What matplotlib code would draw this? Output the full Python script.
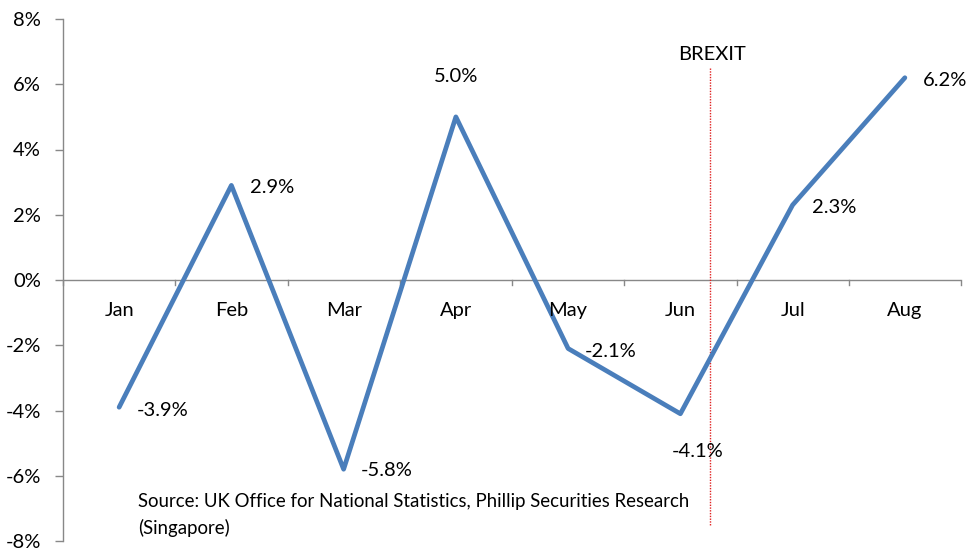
import matplotlib
matplotlib.use("Agg")
import matplotlib.pyplot as plt
from matplotlib.ticker import FuncFormatter

months = ["Jan", "Feb", "Mar", "Apr", "May", "Jun", "Jul", "Aug"]
values = [-3.9, 2.9, -5.8, 5.0, -2.1, -4.1, 2.3, 6.2]
yticks = [-8, -6, -4, -2, 0, 2, 4, 6, 8]
brexit_pos = 5.26

plt.rcParams['font.family'] = ['Lato', 'DejaVu Sans']
W, H = 966, 550
FS = 14.5
fig = plt.figure(figsize=(W / 100, H / 100), dpi=100)
ax = fig.add_axes([63 / W, 1 - 541 / H, (961 - 63) / W, (541 - 19) / H])

x = list(range(len(months)))
ax.plot(x, values, color="#4A7EBB", lw=3.4, solid_capstyle="round", zorder=3)

ax.set_xlim(-0.5, len(months) - 0.5)
ax.set_ylim(-8, 8)
ax.set_yticks(yticks)
ax.yaxis.set_major_formatter(FuncFormatter(lambda v, p: f"{v:.0f}%"))
ax.tick_params(axis="y", direction="out", length=6, width=1, color="#888888",
               labelsize=FS, pad=10)

for s in ["top", "right", "bottom"]:
    ax.spines[s].set_visible(False)
ax.spines["left"].set_color("#888888")
ax.spines["left"].set_linewidth(1)

# zero axis with category ticks
ax.axhline(0, color="#888888", lw=1, zorder=1)
ax.set_xticks([])
for b in range(len(months) + 1):
    ax.plot([b - 0.5, b - 0.5], [0, -0.15], color="#888888", lw=1, clip_on=False, zorder=1)
for i, m in enumerate(months):
    ax.text(i, -0.92, m, ha="center", va="center", fontsize=FS)

# data labels
offsets = {
    0: (0.16, -0.1, "left", "center"),
    1: (0.17, -0.05, "left", "center"),
    2: (0.15, -0.05, "left", "center"),
    3: (0.0, 1.25, "center", "center"),
    4: (0.15, -0.08, "left", "center"),
    5: (0.15, -1.15, "center", "center"),
    6: (0.17, -0.08, "left", "center"),
    7: (0.16, -0.08, "left", "center"),
}
for i, v in enumerate(values):
    dx, dy, ha, va = offsets[i]
    ax.text(i + dx, v + dy, f"{v:.1f}%", ha=ha, va=va, fontsize=FS)

# Brexit marker
ax.plot([brexit_pos, brexit_pos], [6.5, -7.5], color="#E02020", lw=1, ls=(0, (1, 1)), zorder=2)
ax.text(brexit_pos + 0.02, 6.9, "BREXIT", ha="center", va="center", fontsize=FS)

ax.text(0.17, -7.2, "Source: UK Office for National Statistics, Phillip Securities Research\n(Singapore)",
        ha="left", va="center", fontsize=13.4, linespacing=1.6)

fig.savefig("out.png", dpi=100)
